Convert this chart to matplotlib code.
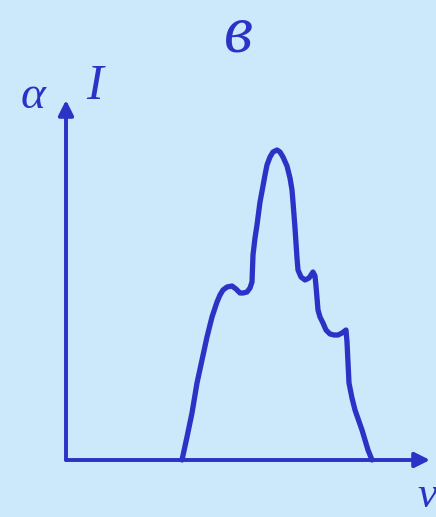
import matplotlib
matplotlib.use("Agg")
import matplotlib.pyplot as plt

# Spectral profile: frequency (nu) and intensity (I) samples
nu = [116, 121, 126, 131, 136, 141, 146, 151, 154, 157, 161, 166, 170, 174,
      177, 181, 184, 186, 187, 189, 191, 194, 197, 199, 201, 204, 207, 211,
      214, 217, 221, 224, 226, 227, 229, 231, 232, 235, 239, 243, 247, 249,
      250, 252, 254, 257, 260, 264, 268, 272, 276, 280, 281, 283, 286, 289,
      296, 302, 306]
intensity = [0, 23, 47, 77, 100, 123, 143, 158, 165, 170, 173, 174, 171, 167,
             167, 168, 172, 178, 205, 222, 235, 258, 274, 285, 295, 303, 308, 310,
             308, 303, 294, 282, 270, 258, 232, 202, 190, 183, 180, 182, 188, 184,
             174, 150, 143, 137, 130, 126, 125, 125, 127, 130, 118, 77, 62, 50,
             30, 10, 0]

BG = "#cce9fb"
INK = "#2a33c6"

fig = plt.figure(figsize=(4.36, 5.17), dpi=100, facecolor=BG)
ax = fig.add_axes([0, 0, 1, 1], facecolor=BG)
ax.set_xlim(-66, 370)
ax.set_ylim(-57, 460)
ax.axis("off")

# axes with arrowheads
arrow = dict(arrowstyle="-|>,head_length=0.9,head_width=0.45", color=INK,
             lw=2.8, shrinkA=0, shrinkB=0)
ax.annotate("", xy=(364, 0), xytext=(0, 0), arrowprops=arrow)
ax.annotate("", xy=(0, 360), xytext=(0, 0), arrowprops=arrow)

# spectrum curve
ax.plot(nu, intensity, color=INK, lw=3.8, solid_joinstyle="round",
        solid_capstyle="round", zorder=3)

lab = dict(color=INK, family=["Liberation Serif", "DejaVu Serif"], style="italic")
ax.text(-33, 363, "α", fontsize=34, ha="center", va="center", **lab)
ax.text(29, 373, "I", fontsize=36, ha="center", va="center", **lab)
ax.text(172, 425, "в", fontsize=48, ha="center", va="center", **lab)
ax.text(361, -56, "ν", fontsize=32, ha="center", va="bottom", **lab)

fig.savefig("out.png", dpi=100, facecolor=BG)
